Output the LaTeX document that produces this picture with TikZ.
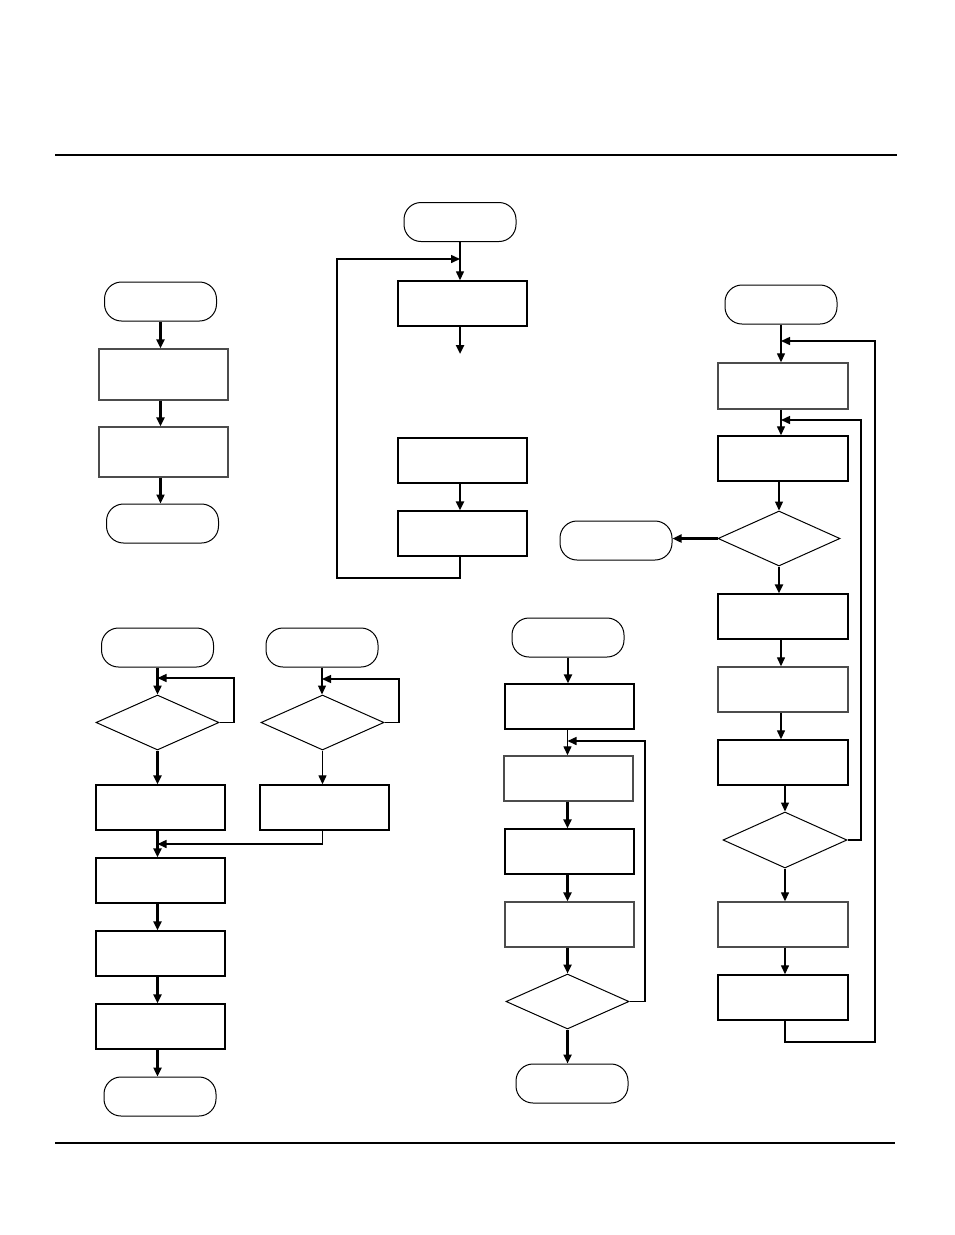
\documentclass[tikz,border=0pt]{standalone}
\usepackage{tikz}
\usetikzlibrary{positioning,arrows.meta,shapes.geometric}

\begin{document}
\begin{tikzpicture}[x=1pt, y=-1pt, font=\sffamily,
  term/.style={draw, line width=1pt, rounded corners=17pt, minimum width=112pt, minimum height=39pt, inner sep=0pt},
  proc/.style={draw, line width=1.4pt, minimum width=129pt, minimum height=45pt, inner sep=0pt},
  procgray/.style={proc, draw=black!70},
  dec/.style={draw, diamond, line width=1pt, minimum width=123pt, minimum height=55pt, inner sep=0pt},
  flow/.style={line width=1.3pt, -{Triangle[length=9pt,width=8pt]}},
  flowbold/.style={flow, line width=2.4pt},
  back/.style={line width=1.5pt, -{Triangle[length=9pt,width=8pt]}}]
	\useasboundingbox (0,0) rectangle (954,1235);
	% page rules
	\coordinate (ruleTopL) at (55,155);
	\coordinate (ruleTopR) at (897,155);
	\coordinate (ruleBotL) at (55,1143);
	\coordinate (ruleBotR) at (895,1143);
	\draw[line width=1.5pt] (ruleTopL) -- (ruleTopR);
	\draw[line width=1.5pt] (ruleBotL) -- (ruleBotR);

	% top left chart
	\node[term] (termA1) at (160.5,301.5) {};
	\node[procgray, minimum height=51pt] (procA2) at (163.5,374.5) {};
	\node[procgray, minimum height=50pt] (procA3) at (163.5,452) {};
	\node[term] (termA4) at (162.5,523.5) {};
	\draw[flowbold] (termA1.south) -- (termA1.south |- procA2.north);
	\draw[flowbold] (procA2.south -| termA1.south) -- (termA1.south |- procA3.north);
	\draw[flowbold] (procA3.south -| termA1.south) -- (termA1.south |- termA4.north);

	% top middle chart
	\node[term] (termB1) at (460,222) {};
	\node[proc] (procB2) at (462.5,303.5) {};
	\node[proc] (procB3) at (462.5,460.5) {};
	\node[proc] (procB4) at (462.5,533.5) {};
	\coordinate (outB) at (460,354);
	\coordinate (loopB) at (337,578);
	\coordinate (loopBtop) at (337,259);
	\draw[flow] (termB1.south) -- (termB1.south |- procB2.north);
	\draw[flowbold] (procB2.south -| termB1.south) -- (outB);
	\draw[flowbold] (procB3.south -| termB1.south) -- (termB1.south |- procB4.north);
	\draw[back] (procB4.south -| termB1.south) |- (loopB) -- (loopBtop) -- (termB1.south |- loopBtop);

	% right chart
	\node[term] (termC1) at (781,304.5) {};
	\node[procgray, minimum width=130pt, minimum height=46pt] (procC2) at (783,386) {};
	\node[proc, minimum width=130pt] (procC3) at (783,458.5) {};
	\node[dec, minimum width=122pt] (decC4) at (779,538.5) {};
	\node[term] (termC5) at (616,540.5) {};
	\node[proc, minimum width=130pt] (procC6) at (783,616.5) {};
	\node[procgray, minimum width=130pt] (procC7) at (783,689.5) {};
	\node[proc, minimum width=130pt] (procC8) at (783,762.5) {};
	\node[dec, minimum width=124pt, minimum height=56pt] (decC9) at (785,840) {};
	\node[procgray, minimum width=130pt] (procC10) at (783,924.5) {};
	\node[proc, minimum width=130pt] (procC11) at (783,997.5) {};
	\coordinate (loopC9) at (861,420);
	\coordinate (loopC11) at (875,1042);
	\coordinate (loopC11top) at (875,341);
	\draw[flow] (termC1.south) -- (termC1.south |- procC2.north);
	\draw[flow] (procC2.south -| termC1.south) -- (termC1.south |- procC3.north);
	\draw[flow] (procC3.south -| decC4.north) -- (decC4.north);
	\draw[flowbold] (decC4.west) -- (decC4.west -| termC5.east);
	\draw[flowbold] (decC4.south) -- (decC4.south |- procC6.north);
	\draw[flow] (procC6.south -| termC1.south) -- (termC1.south |- procC7.north);
	\draw[flow] (procC7.south -| termC1.south) -- (termC1.south |- procC8.north);
	\draw[flow] (procC8.south -| decC9.north) -- (decC9.north);
	\draw[flow] (decC9.south) -- (decC9.south |- procC10.north);
	\draw[flow] (procC10.south -| decC9.south) -- (decC9.south |- procC11.north);
	\draw[back] (decC9.east) -| (loopC9) -- (termC1.south |- loopC9);
	\draw[back] (procC11.south -| decC9.south) |- (loopC11) -- (loopC11top) -- (termC1.south |- loopC11top);

	% bottom left charts
	\node[term] (termD1) at (157.5,647.5) {};
	\node[dec] (decD2) at (157.5,722.5) {};
	\node[proc] (procD3) at (160.5,807.5) {};
	\node[proc] (procD4) at (160.5,880.5) {};
	\node[proc] (procD5) at (160.5,953.5) {};
	\node[proc] (procD6) at (160.5,1026.5) {};
	\node[term] (termD7) at (160,1096.5) {};
	\node[term] (termE1) at (322,647.5) {};
	\node[dec] (decE2) at (322.5,722.5) {};
	\node[proc] (procE3) at (324.5,807.5) {};
	\coordinate (loopD) at (234,678);
	\coordinate (loopE) at (399,679);
	\coordinate (joinD) at (157.5,844);
	\draw[flowbold] (termD1.south) -- (decD2.north);
	\draw[flow] (decD2.east) -| (loopD) -- (termD1.south |- loopD);
	\draw[flowbold] (decD2.south) -- (decD2.south |- procD3.north);
	\draw[flow] (termE1.south) -- (termE1.south |- decE2.north);
	\draw[flow] (decE2.east) -| (loopE) -- (termE1.south |- loopE);
	\draw[flow] (decE2.south) -- (decE2.south |- procE3.north);
	\draw[back] (procE3.south -| decE2.south) |- (joinD);
	\draw[flowbold] (procD3.south -| decD2.south) -- (decD2.south |- procD4.north);
	\draw[flowbold] (procD4.south -| decD2.south) -- (decD2.south |- procD5.north);
	\draw[flowbold] (procD5.south -| decD2.south) -- (decD2.south |- procD6.north);
	\draw[flowbold] (procD6.south -| decD2.south) -- (decD2.south |- termD7.north);

	% bottom middle chart
	\node[term] (termF1) at (568,637.5) {};
	\node[proc] (procF2) at (569.5,706.5) {};
	\node[procgray] (procF3) at (568.5,778.5) {};
	\node[proc] (procF4) at (569.5,851.5) {};
	\node[procgray] (procF5) at (569.5,924.5) {};
	\node[dec] (decF6) at (567.5,1001.5) {};
	\node[term] (termF7) at (572,1083.5) {};
	\coordinate (loopF) at (645,741);
	\draw[flowbold] (termF1.south) -- (termF1.south |- procF2.north);
	\draw[flow] (procF2.south -| decF6.north) -- (decF6.north |- procF3.north);
	\draw[back] (decF6.east) -| (loopF) -- (decF6.north |- loopF);
	\draw[flowbold] (procF3.south -| decF6.north) -- (decF6.north |- procF4.north);
	\draw[flowbold] (procF4.south -| decF6.north) -- (decF6.north |- procF5.north);
	\draw[flowbold] (procF5.south -| decF6.north) -- (decF6.north);
	\draw[flowbold] (decF6.south) -- (decF6.south |- termF7.north);
\end{tikzpicture}
\end{document}
